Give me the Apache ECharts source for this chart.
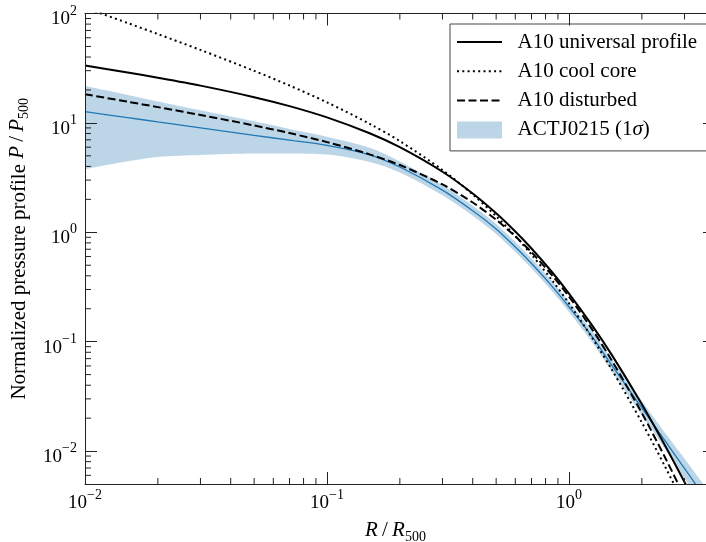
<!DOCTYPE html>
<html><head><meta charset="utf-8">
<script src="https://cdn.jsdelivr.net/npm/echarts@6/dist/echarts.min.js"></script>
<style>html,body{margin:0;padding:0;background:#fff}#c{width:706px;height:542px}</style>
</head><body><div id="c"></div>
<script>
// ---- data ----
const radius     = [0.01,0.015,0.02,0.03,0.05,0.07,0.1,0.15,0.2,0.3,0.4,0.5,0.6,0.7,0.85,1.0,1.25,1.5,2,2.5,3,3.5,4];
const universal  = [33.40,28.88,25.89,21.91,17.19,14.23,11.22,8.036,5.99,3.576,2.263,1.492,1.016,0.7108,0.4334,0.2755,0.1395,0.0761,0.02682,0.01115,0.00522,0.002684,0.001482];
const coolCore   = [112.97,81.83,64.88,46.45,29.90,21.95,15.41,9.814,6.810,3.714,2.220,1.402,0.9216,0.6248,0.3654,0.2239,0.1074,0.05592,0.01825,0.00714,0.003188,0.001572,0.000839];
const disturbed  = [18.30,15.62,13.94,11.81,9.470,8.072,6.675,5.157,4.118,2.738,1.872,1.302,0.9179,0.6561,0.4058,0.2580,0.1282,0.06779,0.02227,0.008641,0.003810,0.001855,0.000977];
const actFit     = [12.66,11.18,10.21,9.02,7.70,6.95,6.23,5.11,3.95,2.43,1.575,1.072,0.733,0.518,0.322,0.2075,0.110,0.0612,0.0248,0.01233,0.00694,0.00427,0.00281];
const actUpper   = [21.7,18.03,15.72,13.04,10.34,8.80,7.48,5.92,4.44,2.70,1.75,1.191,0.815,0.575,0.358,0.2306,0.1235,0.0695,0.0287,0.01458,0.00856,0.00539,0.00362];
const actLower   = [3.77,4.45,4.88,5.09,5.25,5.25,5.14,4.39,3.52,2.18,1.418,0.965,0.659,0.466,0.290,0.1868,0.098,0.0540,0.0214,0.01041,0.00562,0.00339,0.00218];
const xRange = [0.01, 3.682];   // visible part of the x axis (the figure is cropped on the right)
const yRange = [0.005, 100];
const xMinorTicks = [0.02,0.03,0.04,0.05,0.06,0.07,0.08,0.09,0.2,0.3,0.4,0.5,0.6,0.7,0.8,0.9,2,3];
const yMinorTicks = [0.006,0.007,0.008,0.009,0.02,0.03,0.04,0.05,0.06,0.07,0.08,0.09,0.2,0.3,0.4,0.5,0.6,0.7,0.8,0.9,2,3,4,5,6,7,8,9,20,30,40,50,60,70,80,90];
const legendNames = ['A10 universal profile','A10 cool core','A10 disturbed','ACTJ0215 (1σ)'];

// ---- styles ----
const FONT = 'Liberation Serif';
const INK = '#222';
const BAND = '#bcd6e8';
const pairs = ys => radius.map((r, i) => [r, ys[i]]);

function powLabel(v) {
  const e = Math.log10(v);
  const n = Math.round(e);
  if (Math.abs(e - n) > 1e-6) return '';
  return '{b|10}{s|' + String(n).replace('-', '\u2212') + '}';
}
const tickRich = {
  b: {fontFamily: FONT, fontSize: 19, color: '#000', lineHeight: 22, verticalAlign: 'bottom'},
  s: {fontFamily: FONT, fontSize: 14, color: '#000', verticalAlign: 'top', padding: [0, 0, 11, 0]}
};

function minorTicks(values, isX) {
  return {
    type: 'custom', coordinateSystem: 'cartesian2d', xAxisIndex: 0, yAxisIndex: 0,
    silent: true, clip: false, z: 6,
    data: values.map(v => isX ? [v, yRange[0]] : [xRange[0], v]),
    renderItem: function (params, api) {
      const st = {stroke: INK, lineWidth: 1};
      if (isX) {
        const v = api.value(0);
        const b = api.coord([v, yRange[0]]);
        const t = api.coord([v, yRange[1]]);
        return {type: 'group', children: [
          {type: 'line', shape: {x1: b[0], y1: b[1], x2: b[0], y2: b[1] - 6}, style: st},
          {type: 'line', shape: {x1: t[0], y1: t[1], x2: t[0], y2: t[1] + 6}, style: st}
        ]};
      }
      const v = api.value(1);
      const l = api.coord([xRange[0], v]);
      return {type: 'line', shape: {x1: l[0], y1: l[1], x2: l[0] + 6, y2: l[1]}, style: st};
    }
  };
}

const axisLine = {show: true, onZero: false, lineStyle: {color: INK, width: 1}};
const majorTick = {show: true, inside: true, length: 12, lineStyle: {color: INK, width: 1}};
const nameRich = {
  i: {fontFamily: FONT, fontSize: 21, fontStyle: 'italic', color: '#000', verticalAlign: 'top'},
  n: {fontFamily: FONT, fontSize: 21, color: '#000', verticalAlign: 'top'},
  sub: {fontFamily: FONT, fontSize: 14, color: '#000', verticalAlign: 'top', padding: [10, 0, 0, 0]}
};
const noMarker = {opacity: 0, color: 'rgba(0,0,0,0)', borderWidth: 0};

const chart = echarts.init(document.getElementById('c'), null, {renderer: 'canvas'});
chart.setOption({
  animation: false,
  backgroundColor: '#fff',
  grid: {left: 85, top: 13.5, right: 0, bottom: 58, containLabel: false, outerBoundsMode: 'none'},
  xAxis: [{
    type: 'log', logBase: 10, min: xRange[0], max: xRange[1], position: 'bottom', z: 10,
    axisLine: axisLine, axisTick: majorTick, splitLine: {show: false}, minorTick: {show: false},
    axisLabel: {formatter: powLabel, rich: tickRich, margin: 4},
    name: '{i|R}{n|\u2009/\u2009}{i|R}{sub|500}', nameLocation: 'middle', nameGap: 36,
    nameTextStyle: {fontFamily: FONT, fontSize: 21, color: '#000', rich: nameRich}
  }, {
    type: 'log', logBase: 10, min: xRange[0], max: xRange[1], position: 'top', z: 10,
    axisLine: axisLine, axisTick: majorTick, splitLine: {show: false}, axisLabel: {show: false}
  }],
  yAxis: [{
    type: 'log', logBase: 10, min: yRange[0], max: yRange[1], position: 'left', z: 10,
    axisLine: axisLine, axisTick: majorTick, splitLine: {show: false}, minorTick: {show: false},
    axisLabel: {formatter: powLabel, rich: tickRich, margin: 8, padding: [6, 0, 0, 0]},
    name: 'Normalized pressure profile {i|P}{n|\u2009/\u2009}{i|P}{sub|500}', nameLocation: 'middle', nameGap: 54,
    nameTextStyle: {fontFamily: FONT, fontSize: 21, color: '#000', rich: nameRich}
  }, {
    type: 'log', logBase: 10, min: yRange[0], max: yRange[1], position: 'right', z: 10,
    axisLine: {show: false}, splitLine: {show: false}, axisLabel: {show: false},
    axisTick: {show: true, inside: true, length: 3, lineStyle: {color: INK, width: 1}}
  }],
  legend: {
    data: [{name: legendNames[0], icon: 'inherit', itemStyle: noMarker},
           {name: legendNames[1], icon: 'inherit', itemStyle: noMarker},
           {name: legendNames[2], icon: 'inherit', itemStyle: noMarker},
           {name: legendNames[3], icon: 'rect', itemStyle: {color: BAND, opacity: 1}}],
    orient: 'vertical', left: 450, top: 24,
    padding: [7, 45, 10, 6], itemGap: 7.3, itemWidth: 45, itemHeight: 17,
    backgroundColor: '#fff', borderColor: '#444', borderWidth: 1, borderRadius: 0,
    selectedMode: false,
    formatter: n => '  ' + n.replace('σ', '{it|σ}'),
    textStyle: {fontFamily: FONT, fontSize: 21, color: '#000', lineHeight: 22,
      rich: {it: {fontFamily: FONT, fontSize: 21, fontStyle: 'italic', color: '#000'}}}
  },
  series: [
    // 1-sigma band: upper envelope filled, lower envelope masked with the background colour
    {name: legendNames[3], type: 'line', data: pairs(actUpper), smooth: 0.3, symbol: 'none',
     lineStyle: {width: 0, opacity: 0}, itemStyle: {color: BAND},
     areaStyle: {color: BAND, opacity: 1, origin: 'start'}, silent: true, z: 1},
    {name: 'ACTJ0215 lower', type: 'line', data: pairs(actLower), smooth: 0.3, symbol: 'none',
     lineStyle: {width: 0, opacity: 0}, itemStyle: {color: '#fff'},
     areaStyle: {color: '#fff', opacity: 1, origin: 'start'}, silent: true, z: 2},
    {name: 'ACTJ0215 fit', type: 'line', data: pairs(actFit), smooth: 0.3, symbol: 'none',
     lineStyle: {color: '#1f77b4', width: 1.3}, itemStyle: {color: '#1f77b4'}, z: 3},
    {name: legendNames[0], type: 'line', data: pairs(universal), smooth: 0.3, symbol: 'none',
     lineStyle: {color: '#000', width: 2}, itemStyle: {color: '#000'}, z: 4},
    {name: legendNames[1], type: 'line', data: pairs(coolCore), smooth: 0.3, symbol: 'none',
     lineStyle: {color: '#000', width: 2, type: [2, 3.3], cap: 'butt'}, itemStyle: {color: '#000'}, z: 4},
    {name: legendNames[2], type: 'line', data: pairs(disturbed), smooth: 0.3, symbol: 'none',
     lineStyle: {color: '#000', width: 2, type: [8, 3.5], cap: 'butt'}, itemStyle: {color: '#000'}, z: 4},
    minorTicks(xMinorTicks, true),
    minorTicks(yMinorTicks, false)
  ]
});
</script>
</body></html>
